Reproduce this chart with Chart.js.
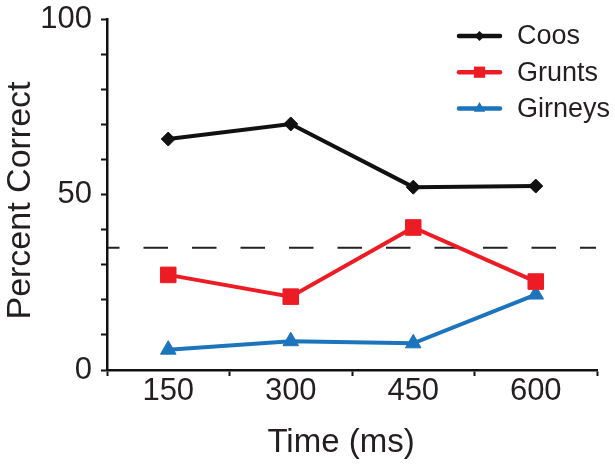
<!DOCTYPE html>
<html>
<head>
<meta charset="utf-8">
<script src="https://cdn.jsdelivr.net/npm/chart.js@4.4.1/dist/chart.umd.min.js"></script>
<style>
  html, body { margin: 0; padding: 0; background: #ffffff; }
  #wrap { width: 615px; height: 473px; }
</style>
</head>
<body>
<div id="wrap"><canvas id="c" width="615" height="473"></canvas></div>
<script>
// ---- Data ----
const categories = ['150', '300', '450', '600'];
const coos = [65.8, 70.1, 52.1, 52.4];
const grunts = [27.1, 20.9, 40.6, 25.2];
const girneys = [5.8, 8.2, 7.6, 21.5];
const chanceLevel = 34.8;
const yTickLabels = [0, 50, 100];
const seriesNames = ['Coos', 'Grunts', 'Girneys'];
const xTitle = 'Time (ms)';
const yTitle = 'Percent Correct';

const FONT = "'Liberation Sans', Arial, Helvetica, sans-serif";
const TEXT = '#231f20';
const colors = ['#111111', '#ed1c24', '#1c75bc'];
const styles = ['rectRot', 'rect', 'triangle'];
const radii = [7, 11, 9];

const chancePlugin = {
  id: 'chanceLine',
  beforeDatasetsDraw(chart) {
    const {ctx, chartArea, scales} = chart;
    const y = scales.y.getPixelForValue(chanceLevel);
    ctx.save();
    ctx.strokeStyle = '#222222';
    ctx.lineWidth = 2;
    ctx.setLineDash([24.5, 24]);
    ctx.lineDashOffset = 13;
    ctx.beginPath();
    ctx.moveTo(chartArea.left + 1, y);
    ctx.lineTo(chartArea.right - 1, y);
    ctx.stroke();
    ctx.restore();
  }
};

// Axis titles, placed relative to the chart area
const titlePlugin = {
  id: 'axisTitles',
  afterDraw(chart) {
    const {ctx, chartArea} = chart;
    ctx.save();
    ctx.fillStyle = TEXT;
    ctx.textAlign = 'center';
    ctx.textBaseline = 'middle';
    ctx.font = "33px " + FONT;
    ctx.fillText(xTitle, (chartArea.left + chartArea.right) / 2 - 11, chartArea.bottom + 73);
    ctx.translate(21, (chartArea.top + chartArea.bottom) / 2 + 6);
    ctx.rotate(-Math.PI / 2);
    ctx.font = "34px " + FONT;
    ctx.fillText(yTitle, 0, 0);
    ctx.restore();
  }
};

function drawMarker(ctx, style, x, y, r, color) {
  ctx.save();
  ctx.fillStyle = color;
  ctx.beginPath();
  if (style === 'rectRot') {
    ctx.moveTo(x - r, y); ctx.lineTo(x, y - r); ctx.lineTo(x + r, y); ctx.lineTo(x, y + r);
  } else if (style === 'rect') {
    const s = Math.SQRT1_2 * r;
    ctx.rect(x - s, y - s, 2 * s, 2 * s);
  } else {
    let a = 0;
    ctx.moveTo(x + Math.sin(a) * r, y - Math.cos(a) * r);
    a += 2 * Math.PI / 3;
    ctx.lineTo(x + Math.sin(a) * r, y - Math.cos(a) * r);
    a += 2 * Math.PI / 3;
    ctx.lineTo(x + Math.sin(a) * r, y - Math.cos(a) * r);
  }
  ctx.closePath();
  ctx.fill();
  ctx.restore();
}

const legendPlugin = {
  id: 'lineLegend',
  afterDraw(chart) {
    const {ctx, chartArea} = chart;
    const x0 = chartArea.right - 138, x1 = chartArea.right - 97, tx = chartArea.right - 80;
    chart.data.datasets.forEach((ds, i) => {
      const y = chartArea.top + 17 + i * 36.2;
      ctx.save();
      ctx.strokeStyle = ds.borderColor;
      ctx.lineWidth = 4.5;
      ctx.lineCap = 'round';
      ctx.beginPath();
      ctx.moveTo(x0, y); ctx.lineTo(x1, y);
      ctx.stroke();
      ctx.restore();
      drawMarker(ctx, ds.pointStyle, (x0 + x1) / 2, y, ds.pointRadius * 0.72, ds.borderColor);
      ctx.save();
      ctx.fillStyle = TEXT;
      ctx.font = "27px " + FONT;
      ctx.textBaseline = 'middle';
      ctx.textAlign = 'left';
      ctx.fillText(ds.label, tx, y + 1);
      ctx.restore();
    });
  }
};

const seriesData = [coos, grunts, girneys];
const datasets = seriesData.map((d, i) => ({
  label: seriesNames[i],
  data: d,
  borderColor: colors[i],
  backgroundColor: colors[i],
  borderWidth: 4,
  pointStyle: styles[i],
  pointRadius: radii[i],
  pointBorderWidth: 1,
  pointBackgroundColor: colors[i],
  pointBorderColor: colors[i],
  tension: 0
}));

new Chart(document.getElementById('c'), {
  type: 'line',
  data: { labels: categories, datasets },
  plugins: [chancePlugin, legendPlugin, titlePlugin],
  options: {
    responsive: false,
    animation: false,
    devicePixelRatio: 1,
    layout: { padding: { left: 0, right: 18, top: 19, bottom: 0 } },
    plugins: { legend: { display: false }, tooltip: { enabled: false } },
    scales: {
      x: {
        type: 'category',
        offset: true,
        afterFit(s) { s.height = 103; s.paddingLeft = 0; s.paddingRight = 0; },
        grid: { display: true, drawOnChartArea: false, offset: true, tickLength: 6, tickWidth: 2, tickColor: '#111' },
        border: { display: true, color: '#111', width: 2.5 },
        ticks: { color: TEXT, padding: 0, font: { family: FONT, size: 31, lineHeight: 1 } },
        title: { display: false, text: xTitle }
      },
      y: {
        min: 0, max: 100,
        afterFit(s) { s.width = 107; s.paddingTop = 0; s.paddingBottom = 0; },
        afterBuildTicks(s) {
          const t = [];
          for (let v = 0; v <= 100; v += 10) t.push({ value: v });
          s.ticks = t;
        },
        grid: { display: true, drawOnChartArea: false, tickLength: 6, tickWidth: 2, tickColor: '#111' },
        border: { display: true, color: '#111', width: 2.5 },
        ticks: {
          color: TEXT, padding: 9, autoSkip: false,
          font: { family: FONT, size: 31 },
          callback: (v) => yTickLabels.includes(v) ? String(v) : ''
        },
        title: { display: false, text: yTitle }
      }
    }
  }
});
</script>
</body>
</html>
